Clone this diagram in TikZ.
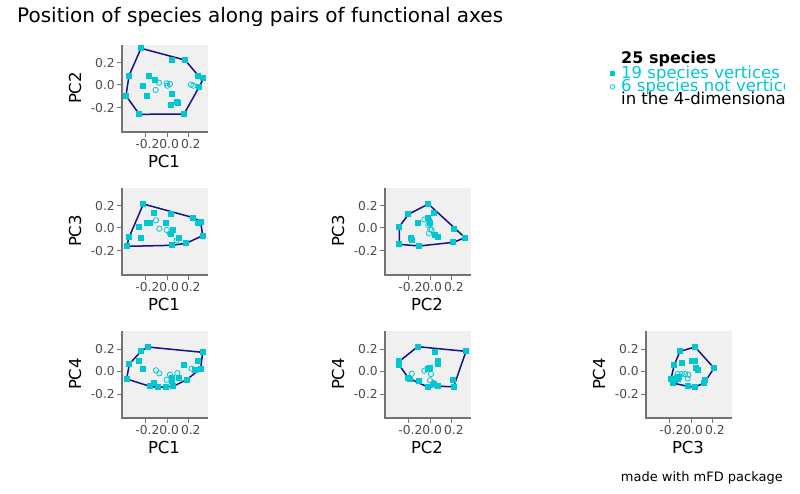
\documentclass[tikz,border=0pt]{standalone}
\usepackage{fontspec}
\setmainfont{DejaVu Sans}
\begin{document}
\begin{tikzpicture}[x=1pt,y=-1pt,
  tick/.style={font=\fontsize{12.3}{13}\selectfont,text=black!70,inner sep=1pt},
  ttl/.style={font=\fontsize{16.5}{17}\selectfont,inner sep=0pt},
  leg/.style={anchor=west,font=\fontsize{16.5}{17}\selectfont,inner sep=0pt}]
\definecolor{cy}{RGB}{0,200,210}
\definecolor{nv}{RGB}{20,20,130}
\useasboundingbox (0,0) rectangle (800,494);
\fill[white] (0,0) rectangle (800,494);
\node[anchor=west,font=\fontsize{20}{21}\selectfont,inner sep=0pt] (title) at (17,17) {Position of species along pairs of functional axes};
\newcommand{\panel}[4]{% cx, ry, xlab, ylab
 \begin{scope}[shift={(#1,#2)}]
  \fill[black!6] (122,45) rectangle (208,132);
  \draw[black!55,line width=2.2pt] (122,45) -- (122,132) -- (208,132);
  \foreach \y/\l in {63/0.2,85/0.0,108/-0.2}{\draw[black!55,line width=1pt] (117,\y)--(121,\y); \node[tick,anchor=east] at (116,\y) {\l};}
  \foreach \x in {145,167,188}{\draw[black!55,line width=1pt] (\x,133)--(\x,137);}
  \node[tick] at (168,144) {-0.20.0\,0.2};
  \node[ttl] at (164,161) {#3};
  \node[ttl,rotate=90] at (75,88) {#4};
 \end{scope}}
\newcommand{\pts}[5]{% zx0, zy0, hull, squares, circles
 \begin{scope}[shift={(#1,#2)},scale=1/3]
  \draw[nv,line width=1.5pt,line join=round] plot coordinates {#3} -- cycle;
  \foreach \a/\b in {#5}{\draw[cy,line width=0.8pt] (\a,\b) circle[radius=8];}
  \foreach \a/\b in {#4}{\fill[cy] (\a-9,\b-9) rectangle (\a+9,\b+9);}
 \end{scope}}
\panel{0}{0}{PC1}{PC2}
\panel{0}{143}{PC1}{PC3}
\panel{263}{143}{PC2}{PC3}
\panel{0}{286}{PC1}{PC4}
\panel{263}{286}{PC2}{PC4}
\panel{524}{286}{PC3}{PC4}
\pts{60}{35}{(243,40) (375,75) (415,122) (430,130) (418,155) (372,237) (238,238) (198,182) (207,122)}
{243/40,375/75,415/122,430/130,418/155,372/237,238/238,198/182,207/122,337/75,268/122,285/135,250/152,262/183,335/177,332/211,355/204,350/200}
{287/165,297/143,320/145,330/147,322/152,393/149,400/152}
\pts{110}{185}{(100,57) (250,98) (272,110) (278,152) (228,175) (185,181) (50,184) (58,155)}
{100/57,133/85,182/87,112/114,120/114,88/125,93/158,168/115,188/135,184/148,250/98,265/115,207/160,58/155,50/184,185/181,228/175,278/152,272/110}
{138/106,148/131,170/135,180/146,200/166,248/100}
\pts{375}{185}{(160,57) (270,158) (235,172) (133,183) (73,178) (73,125) (100,88)}
{160/57,270/158,235/172,133/183,73/178,73/125,100/88,128/113,178/85,158/100,165/113,180/150,190/155,236/133,108/158,112/165}
{148/104,162/104,166/132,162/145,170/135,160/120}
\pts{110}{328}{(113,57) (278,73) (272,122) (230,155) (190,175) (143,178) (120,175) (50,153) (58,108) (93,70)}
{113/57,278/73,272/122,230/155,190/175,143/178,120/175,50/153,58/108,93/70,88/100,100/122,133/165,168/178,185/150,185/160,223/112,265/100,255/125,208/150}
{138/127,148/136,180/140,170/155,202/135,245/122}
\pts{375}{328}{(128,56) (273,70) (236,176) (188,175) (158,177) (100,150) (72,110) (73,100)}
{128/56,273/70,236/176,188/175,158/177,100/150,72/110,73/100,180/72,190/98,190/108,160/122,165/120,132/158,106/152,235/155,178/168}
{110/137,148/128,168/138,165/157,160/120,175/165}
\pts{635}{328}{(180,57) (237,120) (208,165) (180,177) (158,175) (113,165) (108,152) (118,110) (135,70)}
{180/57,237/120,208/165,180/177,158/175,113/165,108/152,118/110,135/70,140/106,170/100,180/100,183/120,190/125,210/155,130/152,120/157,133/148}
{128/138,140/138,150/138,158/152,160/140,125/148}
\begin{scope}
\clip (600,40) rectangle (784,120);
\node[leg,font=\bfseries\fontsize{16}{17}\selectfont] (l0) at (621,59) {25 species};
\node[leg,text=cy] (l1) at (621,74) {19 species vertices};
\node[leg,text=cy] (l2) at (621,87) {6 species not vertices};
\node[leg] (l3) at (621,100) {in the 4-dimensional space};
\fill[cy] (610,71) rectangle (615,76);
\draw[cy,line width=0.8pt] (612.5,87) circle[radius=2.3];
\end{scope}
\node[anchor=east,font=\fontsize{13}{14}\selectfont,inner sep=0pt] (cap) at (783,478) {made with mFD package};
\end{tikzpicture}
\end{document}
